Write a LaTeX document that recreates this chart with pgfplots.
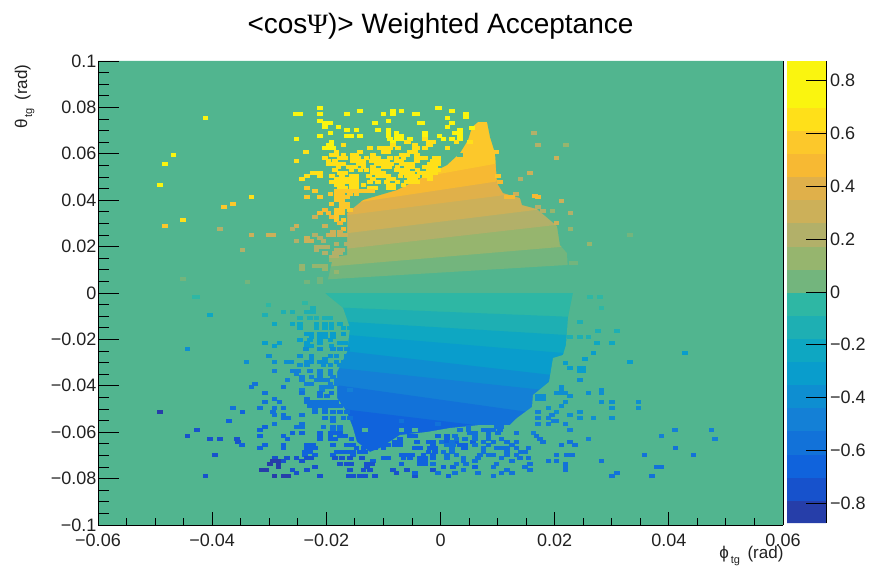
\documentclass[border=0pt]{standalone}
\usepackage{fontspec}
\setmainfont{Liberation Sans}
\newfontfamily\greekser{Liberation Serif}
\usepackage{pgfplots}
\pgfplotsset{compat=1.18}
\definecolor{c2}{rgb}{.0629,.3882,.8625}
\definecolor{c3}{rgb}{.0704,.4458,.8506}
\definecolor{c4}{rgb}{.0779,.5035,.8385}
\definecolor{c5}{rgb}{.0563,.5587,.8198}
\definecolor{c6}{rgb}{.0344,.6138,.8010}
\definecolor{c7}{rgb}{.0540,.6568,.7622}
\definecolor{c8}{rgb}{.1168,.6871,.7027}
\definecolor{c9}{rgb}{.1796,.7175,.6431}
\definecolor{c10}{rgb}{.3188,.7102,.5627}
\definecolor{c11}{rgb}{.45,.71,.49}
\definecolor{c12}{rgb}{.59,.71,.43}
\definecolor{c13}{rgb}{.70,.69,.41}
\definecolor{c14}{rgb}{.80,.69,.35}
\definecolor{c15}{rgb}{.88,.69,.29}
\definecolor{c16}{rgb}{.97,.725,.20}
\definecolor{c17}{rgb}{.99,.785,.17}
\definecolor{lab}{rgb}{.13,.13,.13}
\pgfplotsset{
  colormap={bird}{
    rgb=(.1492,.2430,.6636) rgb=(.0896,.3204,.7992) rgb=(.0629,.3882,.8625) rgb=(.0704,.4458,.8506)
    rgb=(.0779,.5035,.8385) rgb=(.0563,.5587,.8198) rgb=(.0344,.6138,.8010) rgb=(.0540,.6568,.7622)
    rgb=(.1168,.6871,.7027) rgb=(.1796,.7175,.6431) rgb=(.3188,.7102,.5627) rgb=(.45,.71,.49)
    rgb=(.59,.71,.43) rgb=(.70,.69,.41) rgb=(.80,.69,.35) rgb=(.88,.69,.29)
    rgb=(.97,.725,.20) rgb=(.99,.785,.17) rgb=(1,.88,.10) rgb=(.98,.96,.06)
    rgb=(.98,.96,.06)
  }
}
\newcommand{\tickf}{\fontsize{18}{20}\selectfont}
\begin{document}
\begin{tikzpicture}[x=1pt,y=1pt]
\path[use as bounding box] (0,0) rectangle (869,570);
\begin{axis}[
  at={(98pt,45pt)}, anchor=south west,
  scale only axis, width=685pt, height=464pt,
  xmin=-0.06, xmax=0.06, ymin=-0.1, ymax=0.1,
  axis x line=bottom, axis y line=box, axis line style={-, black, line width=0.9pt},
  axis on top,
  scaled ticks=false,
  axis background/.style={fill=c10},
  colormap name=bird, colormap access=piecewise constant,
  point meta min=-0.875, point meta max=0.875,
  colorbar sampled,
  colorbar style={
    samples=21, at={(1.0058,0.0043)}, anchor=south west,
    width=39.5pt, height=462pt,
    axis x line=none, axis y line=none,
    ytick=\empty, xtick=\empty,
  },
  xtick={-0.06,-0.04,-0.02,0,0.02,0.04,0.06},
  xticklabels={−0.06,−0.04,−0.02,0,0.02,0.04,0.06},
  minor x tick num=3,
  ytick=\empty,
  tick align=inside, xtick pos=bottom,
  major tick length=13pt, minor tick length=7pt,
  tick style={black, line width=0.9pt},
  xticklabel style={font=\tickf, text=lab, yshift=-5pt},
  xlabel={\fontsize{17}{19}\selectfont ϕ\raisebox{-5pt}{\fontsize{11}{12}\selectfont\,tg}\, (rad)},
  xlabel style={at={(axis description cs:1,0)}, anchor=north east, yshift=-18pt, xshift=4pt, text=lab},
  title={\fontsize{28}{30}\selectfont <cos{\greekser Ψ})> Weighted Acceptance},
  title style={at={(axis description cs:0.5,1)}, anchor=south, yshift=12pt, text=black},
  clip=true,
]
% contour bands of the central region (each painted up to the top / down to the bottom)
\addplot[fill=c11,draw=none] coordinates {(-0.0246,0.00517)(0.0279,0.01293)(0.0279,0.09)(-0.0246,0.09)} -- cycle;
\addplot[fill=c12,draw=none] coordinates {(-0.0246,0.01034)(0.0279,0.02129)(0.0279,0.09)(-0.0246,0.09)} -- cycle;
\addplot[fill=c13,draw=none] coordinates {(-0.0246,0.01681)(0.0279,0.03147)(0.0279,0.09)(-0.0246,0.09)} -- cycle;
\addplot[fill=c14,draw=none] coordinates {(-0.0246,0.02328)(0.0279,0.03922)(0.0279,0.09)(-0.0246,0.09)} -- cycle;
\addplot[fill=c15,draw=none] coordinates {(-0.0246,0.03103)(0.0279,0.04741)(0.0279,0.09)(-0.0246,0.09)} -- cycle;
\addplot[fill=c16,draw=none] coordinates {(-0.0246,0.03534)(0.0279,0.05474)(0.0279,0.09)(-0.0246,0.09)} -- cycle;
\addplot[fill=c17,draw=none] coordinates {(-0.0246,0.04052)(0.0279,0.06379)(0.0279,0.09)(-0.0246,0.09)} -- cycle;
\addplot[fill=c9,draw=none] coordinates {(-0.0246,0)(0.0279,0)(0.0279,-0.09)(-0.0246,-0.09)} -- cycle;
\addplot[fill=c8,draw=none] coordinates {(-0.0246,-0.0056)(0.0279,-0.01078)(0.0279,-0.09)(-0.0246,-0.09)} -- cycle;
\addplot[fill=c7,draw=none] coordinates {(-0.0246,-0.01121)(0.0279,-0.01897)(0.0279,-0.09)(-0.0246,-0.09)} -- cycle;
\addplot[fill=c6,draw=none] coordinates {(-0.0246,-0.01638)(0.0279,-0.02716)(0.0279,-0.09)(-0.0246,-0.09)} -- cycle;
\addplot[fill=c5,draw=none] coordinates {(-0.0246,-0.02284)(0.0279,-0.03772)(0.0279,-0.09)(-0.0246,-0.09)} -- cycle;
\addplot[fill=c4,draw=none] coordinates {(-0.0246,-0.0306)(0.0279,-0.0444)(0.0279,-0.09)(-0.0246,-0.09)} -- cycle;
\addplot[fill=c3,draw=none] coordinates {(-0.0246,-0.0375)(0.0279,-0.0556)(0.0279,-0.09)(-0.0246,-0.09)} -- cycle;
\addplot[fill=c2,draw=none] coordinates {(-0.0246,-0.04784)(0.0279,-0.06336)(0.0279,-0.09)(-0.0246,-0.09)} -- cycle;
% empty bins around the populated region
\addplot[fill=c10,draw=none,even odd rule] coordinates {
(-0.06,0.1)(0.06,0.1)(0.06,-0.1)(-0.06,-0.1)(-0.06,0)
(-0.02023,0)(-0.01936,0.00991)(-0.01883,0.01552)(-0.01638,0.01638)(-0.01638,0.03448)(-0.01358,0.04009)
(-0.00762,0.0444)(-0.00307,0.05)(0.00114,0.05517)(0.00342,0.06034)(0.00482,0.06595)(0.00552,0.07155)
(0.00657,0.07371)(0.00815,0.07371)(0.00867,0.06724)(0.00955,0.06034)(0.0099,0.04741)(0.01095,0.0431)
(0.01393,0.04095)(0.01428,0.03793)(0.0169,0.03621)(0.02041,0.02888)(0.02093,0.02069)(0.02216,0.01724)
(0.02233,0.00905)(0.02321,0)(0.02233,-0.01078)(0.02198,-0.02241)(0.02146,-0.02672)(0.01971,-0.02802)
(0.01901,-0.03836)(0.0162,-0.04397)(0.01603,-0.04914)(0.0134,-0.05388)(0.01217,-0.0569)(0.00692,-0.0569)
(0.00166,-0.05819)(-0.00237,-0.05991)(-0.0071,-0.06121)(-0.0106,-0.06681)(-0.01235,-0.06853)(-0.01463,-0.06422)
(-0.01533,-0.05819)(-0.01638,-0.05129)(-0.01813,-0.04526)(-0.01813,-0.03405)(-0.01638,-0.02543)(-0.01585,-0.01509)
(-0.01708,-0.00647)(-0.01988,-0.00086)(-0.02023,0)(-0.06,0)
} -- cycle;
% isolated bins
\addplot[scatter, only marks, mark=square*, mark size=1.55pt,
  scatter/use mapped color={draw=mapped color, fill=mapped color},
  mark options={xscale=1.48, line width=0pt}, point meta=explicit]
table[row sep=\\, x=x, y=y, meta=v] {
x y v \\
-.0211 .0799 .84 \\ -.0004 .0799 .84 \\
-.0141 .0786 .84 \\ -.0068 .0786 .84 \\ -.0083 .0786 .84 \\
-.0253 .0772 .84 \\ -.0245 .0772 .84 \\ -.0211 .0772 .84 \\ -.0164 .0772 .84 \\ -.0100 .0772 .84 \\ -.0083 .0772 .84 \\ -.0041 .0772 .84 \\
-.0412 .0756 .84 \\
-.0211 .0743 .74 \\ -.0091 .0743 .74 \\
-.0202 .0731 .84 \\ -.0193 .0731 .84 \\ -.0115 .0731 .74 \\ -.0032 .0731 .74 \\
-.0202 .0717 .84 \\ -.0179 .0717 .74 \\
-.0164 .0704 .74 \\ -.0147 .0704 .74 \\ -.0109 .0704 .74 \\ -.0091 .0704 .74 \\
-.0193 .0691 .74 \\ -.0091 .0691 .72 \\ -.0077 .0691 .72 \\
-.0211 .0678 .74 \\ -.0164 .0678 .74 \\ -.0156 .0678 .74 \\ -.0141 .0678 .72 \\ -.0091 .0678 .72 \\ -.0077 .0678 .72 \\ -.0068 .0678 .72 \\ -.0027 .0678 .72 \\
-.0252 .0664 .72 \\ -.0088 .0664 .72 \\ -.0077 .0664 .72 \\ -.0053 .0664 .72 \\
-.0191 .0649 .72 \\ -.0083 .0649 .72 \\ -.0059 .0649 .64 \\ -.0021 .0649 .64 \\ -.0013 .0649 .64 \\
-.0191 .0636 .72 \\ -.0196 .0636 .72 \\ -.0170 .0636 .64 \\ -.0083 .0636 .64 \\ -.0045 .0636 .64 \\ -.0018 .0636 .64 \\
-.0202 .0624 .72 \\ -.0193 .0624 .72 \\ -.0188 .0624 .72 \\ -.0123 .0624 .64 \\ -.0106 .0624 .64 \\ -.0097 .0624 .64 \\ -.0088 .0624 .64 \\ -.0074 .0624 .64 \\ -.0041 .0624 .64 \\ -.0027 .0624 .64 \\
-.0236 .0609 .63 \\ -.0182 .0609 .63 \\ -.0141 .0609 .63 \\ -.0100 .0609 .63 \\ -.0091 .0609 .63 \\ -.0053 .0609 .63 \\ -.0045 .0609 .63 \\
-.0468 .0596 .72 \\ -.0191 .0596 .63 \\ -.0182 .0596 .63 \\ -.0170 .0596 .63 \\ -.0153 .0596 .63 \\ -.0147 .0596 .63 \\ -.0118 .0596 .63 \\ -.0068 .0596 .63 \\ -.0059 .0596 .63 \\ -.0041 .0596 .63 \\
-.0202 .0583 .63 \\ -.0176 .0583 .63 \\ -.0167 .0583 .63 \\ -.0153 .0583 .63 \\ -.0144 .0583 .63 \\ -.0118 .0583 .63 \\ -.0109 .0583 .63 \\ -.0088 .0583 .63 \\ -.0077 .0583 .63 \\ -.0041 .0583 .63 \\ -.0036 .0583 .63 \\ -.0010 .0583 .63 \\ -.0004 .0583 .63 \\ -.0130 .0583 .63 \\ -.0065 .0583 .63 \\ -.0027 .0583 .63 \\
-.0252 .0570 .64 \\ -.0196 .0570 .63 \\ -.0153 .0570 .63 \\ -.0144 .0570 .63 \\ -.0135 .0570 .63 \\ -.0112 .0570 .63 \\ -.0103 .0570 .63 \\ -.0094 .0570 .63 \\ -.0077 .0570 .63 \\ -.0068 .0570 .63 \\ -.0041 .0570 .63 \\ -.0013 .0570 .63 \\ -.0004 .0570 .63 \\ -.0185 .0570 .63 \\ -.0120 .0570 .63 \\
-.0483 .0557 .74 \\ -.0196 .0557 .63 \\ -.0188 .0557 .63 \\ -.0179 .0557 .63 \\ -.0170 .0557 .63 \\ -.0144 .0557 .63 \\ -.0135 .0557 .63 \\ -.0112 .0557 .63 \\ -.0103 .0557 .63 \\ -.0094 .0557 .63 \\ -.0086 .0557 .63 \\ -.0068 .0557 .63 \\ -.0059 .0557 .63 \\ -.0050 .0557 .63 \\ -.0018 .0557 .63 \\ -.0010 .0557 .63 \\ -.0004 .0557 .63 \\
-.0179 .0545 .63 \\ -.0135 .0545 .63 \\ -.0118 .0545 .63 \\ -.0059 .0545 .63 \\ -.0027 .0545 .63 \\ -.0018 .0545 .63 \\ -.0010 .0545 .63 \\ -.0160 .0545 .63 \\ -.0150 .0545 .63 \\ -.0100 .0545 .63 \\ -.0090 .0545 .63 \\ -.0075 .0545 .63 \\ -.0050 .0545 .63 \\
-.0156 .0530 .63 \\ -.0118 .0530 .63 \\ -.0109 .0530 .63 \\ -.0077 .0530 .63 \\ -.0068 .0530 .63 \\ -.0059 .0530 .63 \\ -.0021 .0530 .63 \\ -.0013 .0530 .63 \\ -.0004 .0530 .63 \\ -.0185 .0530 .63 \\ -.0140 .0530 .63 \\ -.0130 .0530 .63 \\ -.0040 .0530 .63 \\
-.0223 .0517 .63 \\ -.0220 .0517 .63 \\ -.0211 .0517 .63 \\ -.0176 .0517 .63 \\ -.0167 .0517 .63 \\ -.0118 .0517 .63 \\ -.0109 .0517 .63 \\ -.0100 .0517 .63 \\ -.0068 .0517 .63 \\ -.0059 .0517 .63 \\ -.0050 .0517 .63 \\ -.0036 .0517 .63 \\ -.0027 .0517 .63 \\ -.0018 .0517 .63 \\ -.0010 .0517 .63 \\
-.0234 .0504 .63 \\ -.0211 .0504 .63 \\ -.0173 .0504 .63 \\ -.0156 .0504 .63 \\ -.0147 .0504 .63 \\ -.0100 .0504 .63 \\ -.0091 .0504 .63 \\ -.0059 .0504 .63 \\ -.0050 .0504 .63 \\ -.0041 .0504 .63 \\ -.0027 .0504 .63 \\ -.0018 .0504 .63 \\ -.0190 .0504 .63 \\ -.0125 .0504 .63 \\ -.0110 .0504 .63 \\ -.0070 .0504 .63 \\
-.0243 .0490 .63 \\ -.0182 .0490 .63 \\ -.0173 .0490 .63 \\ -.0164 .0490 .63 \\ -.0156 .0490 .63 \\ -.0147 .0490 .63 \\ -.0118 .0490 .63 \\ -.0091 .0490 .63 \\ -.0083 .0490 .63 \\ -.0053 .0490 .63 \\ -.0044 .0490 .63 \\ -.0018 .0490 .63 \\
-.0191 .0477 .63 \\ -.0182 .0477 .63 \\ -.0173 .0477 .63 \\ -.0164 .0477 .63 \\ -.0156 .0477 .63 \\ -.0147 .0477 .63 \\ -.0123 .0477 .63 \\ -.0094 .0477 .63 \\ -.0059 .0477 .63 \\ -.0050 .0477 .63 \\ -.0041 .0477 .63 \\ -.0110 .0477 .63 \\ -.0075 .0477 .63 \\
-.0491 .0464 .84 \\ -.0182 .0464 .63 \\ -.0173 .0464 .63 \\ -.0156 .0464 .63 \\ -.0147 .0464 .63 \\ -.0135 .0464 .63 \\ -.0091 .0464 .63 \\ -.0083 .0464 .63 \\ -.0065 .0464 .63 \\
-.0234 .0451 .55 \\ -.0176 .0451 .63 \\ -.0167 .0451 .63 \\ -.0156 .0451 .63 \\ -.0147 .0451 .63 \\ -.0123 .0451 .63 \\ -.0115 .0451 .63 \\ -.0091 .0451 .63 \\ -.0083 .0451 .63 \\
-.0220 .0438 .55 \\ -.0182 .0438 .55 \\ -.0173 .0438 .55 \\ -.0156 .0438 .55 \\ -.0147 .0438 .55 \\ -.0129 .0438 .55 \\ -.0120 .0438 .55 \\ -.0165 .0438 .55 \\ -.0138 .0438 .55 \\
-.0193 .0425 .55 \\ -.0182 .0425 .55 \\ -.0173 .0425 .55 \\ -.0159 .0425 .55 \\ -.0147 .0425 .55 \\
-.0331 .0412 .63 \\ -.0234 .0412 .55 \\ -.0211 .0412 .55 \\ -.0182 .0412 .55 \\ -.0173 .0412 .55 \\ -.0164 .0412 .55 \\
-.0182 .0399 .55 \\ -.0173 .0399 .55 \\
-.0363 .0385 .55 \\ -.0191 .0385 .55 \\ -.0173 .0385 .55 \\ -.0164 .0385 .55 \\
-.0379 .0372 .55 \\ -.0173 .0372 .55 \\ -.0164 .0372 .55 \\
-.0202 .0358 .46 \\ -.0182 .0358 .55 \\ -.0173 .0358 .55 \\ -.0159 .0358 .55 \\
-.0211 .0343 .46 \\ -.0196 .0343 .46 \\ -.0182 .0343 .55 \\ -.0173 .0343 .55 \\
-.0220 .0329 .37 \\ -.0191 .0329 .46 \\ -.0182 .0329 .55 \\
-.0451 .0315 .63 \\ -.0182 .0315 .55 \\ -.0170 .0315 .55 \\
-.0176 .0302 .46 \\
-.0483 .0289 .55 \\ -.0252 .0289 .37 \\ -.0202 .0289 .37 \\
-.0386 .0276 .285 \\ -.0259 .0276 .285 \\ -.0170 .0276 .46 \\
-.0188 .0263 .37 \\ -.0176 .0263 .37 \\
-.0331 .0250 .37 \\ -.0301 .0250 .37 \\ -.0293 .0250 .37 \\ -.0220 .0250 .285 \\ -.0196 .0250 .37 \\ -.0188 .0250 .37 \\ -.0176 .0250 .37 \\ -.0167 .0250 .37 \\
-.0234 .0236 .37 \\ -.0211 .0236 .285 \\
-.0252 .0223 .285 \\ -.0234 .0223 .37 \\ -.0226 .0223 .37 \\ -.0205 .0223 .285 \\
-.0182 .0210 .285 \\ -.0164 .0210 .285 \\ -.0156 .0210 .285 \\
-.0217 .0197 .285 \\ -.0208 .0197 .285 \\ -.0199 .0197 .285 \\
-.0347 .0184 .285 \\ -.0217 .0184 .285 \\ -.0182 .0184 .285 \\ -.0173 .0184 .285 \\
-.0202 .0171 .285 \\ -.0185 .0171 .285 \\ -.0176 .0171 .285 \\
-.0182 .0157 .285 \\ -.0191 .0157 .285 \\
-.0191 .0142 .2 \\ -.0182 .0142 .2 \\
-.0220 .0118 .2 \\ -.0211 .0118 .2 \\ -.0202 .0118 .2 \\ -.0243 .0118 .2 \\
-.0243 .0103 .2 \\ -.0202 .0103 .2 \\
-.0182 .0089 .2 \\
-.0451 .0062 .11 \\ -.0211 .0062 .11 \\
-.0338 .0049 .11 \\ -.0234 .0049 .11 \\ -.0211 .0049 .11 \\
-.0003 .0796 .84 \\ .0045 .0772 .84 \\ .0045 .0760 .84 \\ .0020 .0786 .84 \\ -.0045 .0772 .84 \\ .0012 .0756 .74 \\ .0020 .0731 .74 \\ -.0036 .0731 .74 \\ .0012 .0717 .74 \\ .0034 .0704 .74 \\ .0034 .0691 .74 \\ .0025 .0691 .74 \\ -.0027 .0691 .72 \\ .0034 .0678 .72 \\ -.0002 .0678 .72 \\ .0020 .0664 .72 \\ .0005 .0664 .72 \\ .0034 .0664 .72 \\ -.0068 .0664 .72 \\ -.0056 .0649 .64 \\ -.0027 .0664 .64 \\ -.0013 .0649 .64 \\ .0028 .0649 .64 \\ .0052 .0649 .64 \\ -.0021 .0636 .64 \\ -.0045 .0624 .64 \\ -.0027 .0624 .64 \\ .0055 .0711 .72 \\
.0012 .0624 .63 \\ .0012 .0596 .04 \\ .0034 .0596 .04 \\
.0098 .0609 .55 \\ .0101 .0504 .55 \\ .0104 .0477 .46 \\ .0140 .0490 .285 \\ .0157 .0517 .37 \\ .0164 .0691 .285 \\ .0171 .0636 .285 \\ .0220 .0636 .2 \\ .0203 .0583 .37 \\ .0166 .0418 .46 \\ .0171 .0412 .46 \\ .0212 .0398 .37 \\ .0132 .0425 .37 \\ .0116 .0412 .46 \\ .0125 .0412 .46 \\ .0171 .0369 .285 \\ .0180 .0355 .285 \\ .0196 .0355 .2 \\ .0228 .0343 .285 \\ .0203 .0303 .37 \\ .0228 .0276 .2 \\ .0332 .0250 .11 \\ .0261 .0211 .2 \\ .0230 .0131 .11 \\ .0236 .0131 .11 \\
-.0430 -.0016 -.1 \\ -.0427 -.0016 -.1 \\ -.0301 -.0052 -.12 \\
-.0404 -.0095 -.25 \\ -.0307 -.0095 -.2 \\ -.0275 -.0080 -.15 \\ -.0259 -.0080 -.15 \\ -.0234 -.0080 -.18 \\ -.0223 -.0080 -.18 \\ -.0223 -.0066 -.15 \\ -.0237 -.0045 -.12 \\
-.0246 -.0109 -.2 \\ -.0229 -.0109 -.2 \\ -.0217 -.0109 -.2 \\ -.0202 -.0109 -.2 \\ -.0193 -.0109 -.2 \\
-.0291 -.0135 -.25 \\ -.0259 -.0135 -.25 \\ -.0246 -.0135 -.25 \\ -.0217 -.0135 -.25 \\ -.0202 -.0135 -.25 \\ -.0191 -.0135 -.25 \\ -.0176 -.0135 -.25 \\
-.0246 -.0149 -.25 \\ -.0217 -.0149 -.25 \\ -.0202 -.0149 -.25 \\ -.0191 -.0149 -.25 \\ -.0170 -.0149 -.25 \\ -.0159 -.0149 -.25 \\
-.0234 -.0177 -.3 \\ -.0226 -.0177 -.3 \\ -.0211 -.0177 -.3 \\ -.0202 -.0177 -.3 \\ -.0188 -.0177 -.3 \\ -.0170 -.0177 -.3 \\
-.0226 -.0191 -.3 \\ -.0211 -.0191 -.3 \\ -.0202 -.0191 -.3 \\ -.0188 -.0191 -.3 \\
-.0246 -.0203 -.3 \\ -.0229 -.0203 -.3 \\ -.0211 -.0203 -.3 \\ -.0193 -.0203 -.3 \\
-.0307 -.0217 -.35 \\ -.0282 -.0217 -.35 \\ -.0234 -.0217 -.35 \\ -.0211 -.0217 -.35 \\ -.0176 -.0217 -.35 \\ -.0167 -.0217 -.35 \\
-.0291 -.0230 -.35 \\ -.0234 -.0230 -.35 \\ -.0226 -.0230 -.35 \\ -.0191 -.0230 -.35 \\
-.0443 -.0243 -.42 \\ -.0236 -.0243 -.38 \\ -.0211 -.0243 -.38 \\ -.0188 -.0243 -.38 \\ -.0176 -.0243 -.38 \\ -.0164 -.0243 -.38 \\
-.0300 -.0270 -.4 \\ -.0246 -.0270 -.4 \\ -.0226 -.0270 -.4 \\ -.0193 -.0270 -.4 \\ -.0182 -.0270 -.4 \\ -.0164 -.0270 -.4 \\
-.0226 -.0283 -.4 \\ -.0202 -.0283 -.4 \\
-.0340 -.0296 -.45 \\ -.0291 -.0296 -.42 \\ -.0269 -.0296 -.42 \\ -.0261 -.0296 -.42 \\ -.0234 -.0296 -.42 \\ -.0226 -.0296 -.42 \\ -.0211 -.0296 -.42 \\ -.0202 -.0296 -.42 \\ -.0182 -.0296 -.42 \\ -.0170 -.0296 -.42 \\
-.0246 -.0310 -.42 \\ -.0234 -.0310 -.42 \\ -.0205 -.0310 -.42 \\ -.0193 -.0310 -.42 \\ -.0176 -.0310 -.42 \\
-.0291 -.0336 -.48 \\ -.0258 -.0336 -.48 \\ -.0249 -.0336 -.48 \\ -.0229 -.0336 -.48 \\ -.0211 -.0336 -.48 \\ -.0193 -.0336 -.48 \\
-.0252 -.0351 -.48 \\ -.0211 -.0351 -.48 \\ -.0193 -.0351 -.48 \\
-.0243 -.0364 -.48 \\ -.0226 -.0364 -.48 \\ -.0211 -.0364 -.48 \\ -.0188 -.0364 -.48 \\
-.0268 -.0376 -.5 \\ -.0243 -.0376 -.5 \\ -.0217 -.0376 -.5 \\ -.0208 -.0376 -.5 \\ -.0199 -.0376 -.5 \\ -.0182 -.0376 -.5 \\ -.0159 -.0376 -.5 \\
-.0325 -.0391 -.55 \\ -.0234 -.0391 -.5 \\ -.0226 -.0391 -.5 \\ -.0193 -.0391 -.5 \\ -.0182 -.0391 -.5 \\
-.0331 -.0404 -.55 \\ -.0275 -.0404 -.55 \\ -.0208 -.0404 -.52 \\ -.0199 -.0404 -.52 \\ -.0191 -.0404 -.52 \\
-.0243 -.0418 -.52 \\ -.0208 -.0418 -.52 \\ -.0159 -.0418 -.52 \\
-.0307 -.0431 -.55 \\ -.0243 -.0431 -.55 \\ -.0211 -.0431 -.55 \\ -.0191 -.0431 -.55 \\
-.0211 -.0444 -.55 \\ -.0199 -.0444 -.55 \\
-.0291 -.0458 -.55 \\ -.0234 -.0458 -.55 \\
-.0307 -.0471 -.58 \\ -.0282 -.0471 -.58 \\ -.0234 -.0471 -.58 \\ -.0226 -.0471 -.58 \\ -.0217 -.0471 -.58 \\ -.0208 -.0471 -.58 \\ -.0199 -.0471 -.58 \\ -.0191 -.0471 -.58 \\ -.0182 -.0471 -.58 \\ -.0170 -.0471 -.58 \\ -.0161 -.0471 -.58 \\
-.0229 -.0486 -.58 \\ -.0220 -.0486 -.58 \\ -.0211 -.0486 -.58 \\ -.0202 -.0486 -.58 \\ -.0193 -.0486 -.58 \\ -.0185 -.0486 -.58 \\ -.0176 -.0486 -.58 \\
-.0363 -.0497 -.62 \\ -.0316 -.0497 -.6 \\ -.0291 -.0497 -.6 \\ -.0275 -.0497 -.6 \\ -.0220 -.0497 -.6 \\ -.0202 -.0497 -.6 \\
-.0491 -.0511 -.8 \\ -.0347 -.0511 -.68 \\ -.0293 -.0511 -.6 \\ -.0220 -.0511 -.6 \\ -.0202 -.0511 -.6 \\ -.0188 -.0511 -.6 \\ -.0176 -.0511 -.6 \\ -.0164 -.0511 -.6 \\
-.0291 -.0526 -.6 \\ -.0275 -.0526 -.6 \\ -.0243 -.0526 -.6 \\
-.0275 -.0539 -.62 \\ -.0267 -.0539 -.62 \\ -.0202 -.0539 -.62 \\ -.0188 -.0539 -.62 \\ -.0170 -.0539 -.62 \\ -.0159 -.0539 -.62 \\
-.0371 -.0552 -.65 \\ -.0188 -.0552 -.62 \\ -.0068 -.0552 -.62 \\
-.0291 -.0565 -.62 \\ -.0243 -.0565 -.62 \\ -.0004 -.0565 -.62 \\
-.0307 -.0578 -.65 \\ -.0252 -.0578 -.62 \\ -.0243 -.0578 -.62 \\ -.0205 -.0578 -.62 \\ -.0188 -.0578 -.62 \\ -.0176 -.0578 -.62 \\
-.0427 -.0591 -.75 \\ -.0316 -.0591 -.65 \\ -.0188 -.0591 -.62 \\ -.0176 -.0591 -.62 \\ -.0132 -.0591 .04 \\ -.0068 -.0591 .04 \\ -.0045 -.0591 .04 \\
-.0259 -.0605 -.65 \\ -.0243 -.0605 -.65 \\ -.0211 -.0605 -.65 \\ -.0193 -.0605 -.65 \\ -.0185 -.0605 -.65 \\ -.0176 -.0605 -.65 \\
-.0443 -.0618 -.78 \\ -.0316 -.0618 -.65 \\ -.0275 -.0618 -.65 \\ -.0211 -.0618 -.65 \\ -.0193 -.0618 -.65 \\ -.0176 -.0618 -.65 \\ -.0167 -.0618 -.65 \\ -.0106 -.0618 -.65 \\ -.0097 -.0618 -.65 \\ -.0053 -.0618 -.65 \\ -.0045 -.0618 -.65 \\
-.0404 -.0631 -.75 \\ -.0386 -.0631 -.75 \\ -.0357 -.0631 -.72 \\ -.0268 -.0631 -.66 \\ -.0211 -.0631 -.66 \\ -.0193 -.0631 -.66 \\ -.0185 -.0631 -.66 \\ -.0156 -.0631 -.66 \\ -.0071 -.0631 -.66 \\
-.0355 -.0644 -.72 \\ -.0080 -.0644 -.66 \\ -.0071 -.0644 -.66 \\ -.0041 -.0644 -.66 \\ -.0021 -.0644 -.66 \\ -.0013 -.0644 -.66 \\
-.0348 -.0657 -.7 \\ -.0307 -.0657 -.7 \\ -.0275 -.0657 -.7 \\ -.0234 -.0657 -.7 \\ -.0223 -.0657 -.7 \\ -.0188 -.0657 -.7 \\ -.0164 -.0657 -.7 \\ -.0153 -.0657 -.7 \\ -.0118 -.0657 -.7 \\ -.0109 -.0657 -.7 \\ -.0100 -.0657 -.7 \\ -.0091 -.0657 -.7 \\ -.0080 -.0657 -.7 \\ -.0071 -.0657 -.7 \\
-.0316 -.0670 -.7 \\ -.0275 -.0670 -.7 \\ -.0234 -.0670 -.7 \\ -.0226 -.0670 -.7 \\ -.0220 -.0670 -.7 \\ -.0147 -.0670 -.7 \\ -.0135 -.0670 -.68 \\ -.0115 -.0670 -.68 \\ -.0100 -.0670 -.68 \\ -.0045 -.0670 -.68 \\ -.0036 -.0670 -.68 \\ -.0018 -.0670 -.68 \\ -.0010 -.0670 -.68 \\
-.0237 -.0684 -.7 \\ -.0229 -.0684 -.7 \\ -.0182 -.0684 -.7 \\ -.0173 -.0684 -.7 \\ -.0164 -.0684 -.7 \\ -.0153 -.0684 -.7 \\ -.0141 -.0684 -.7 \\ -.0132 -.0684 -.68 \\ -.0010 -.0684 -.68 \\
-.0395 -.0697 -.75 \\ -.0237 -.0697 -.7 \\ -.0220 -.0697 -.7 \\ -.0188 -.0697 -.7 \\ -.0153 -.0697 -.7 \\ -.0068 -.0697 -.68 \\ -.0059 -.0697 -.68 \\ -.0050 -.0697 -.68 \\ -.0030 -.0697 -.68 \\ -.0013 -.0697 -.68 \\
-.0290 -.0710 -.78 \\ -.0269 -.0710 -.75 \\ -.0252 -.0710 -.72 \\ -.0234 -.0710 -.72 \\ -.0226 -.0710 -.72 \\ -.0185 -.0710 -.72 \\ -.0173 -.0710 -.72 \\ -.0159 -.0710 -.72 \\ -.0138 -.0710 -.72 \\ -.0100 -.0710 -.7 \\ -.0091 -.0710 -.7 \\ -.0065 -.0710 -.7 \\ -.0053 -.0710 -.7 \\ -.0036 -.0710 -.7 \\ -.0027 -.0710 -.7 \\ -.0013 -.0710 -.7 \\
-.0293 -.0723 -.8 \\ -.0275 -.0723 -.78 \\ -.0284 -.0723 -.8 \\ -.0243 -.0723 -.72 \\ -.0118 -.0723 -.7 \\ -.0036 -.0723 -.7 \\ -.0027 -.0723 -.7 \\
-.0299 -.0736 -.82 \\ -.0284 -.0736 -.82 \\ -.0176 -.0736 -.72 \\ -.0164 -.0736 -.72 \\ -.0156 -.0736 -.72 \\ -.0129 -.0736 -.72 \\ -.0120 -.0736 -.72 \\ -.0068 -.0736 -.7 \\ -.0036 -.0736 -.7 \\ -.0027 -.0736 -.7 \\
-.0284 -.0749 -.82 \\ -.0220 -.0749 -.72 \\ -.0129 -.0749 -.72 \\
-.0313 -.0763 -.82 \\ -.0306 -.0763 -.82 \\ -.0259 -.0763 -.75 \\ -.0234 -.0763 -.72 \\ -.0159 -.0763 -.72 \\ -.0135 -.0763 -.72 \\ -.0123 -.0763 -.72 \\ -.0083 -.0763 -.72 \\ -.0059 -.0763 -.72 \\ -.0013 -.0763 -.72 \\
-.0252 -.0777 -.75 \\ -.0077 -.0777 -.72 \\
-.0412 -.0790 -.78 \\ -.0291 -.0790 -.82 \\ -.0275 -.0790 -.82 \\ -.0267 -.0790 -.82 \\ -.0211 -.0790 -.72 \\ -.0161 -.0790 -.72 \\ -.0153 -.0790 -.72 \\ -.0141 -.0790 -.72 \\ -.0132 -.0790 -.72 \\ -.0115 -.0790 -.72 \\ -.0045 -.0790 -.72 \\
.0262 -.0016 -.1 \\ .0279 -.0016 -.1 \\ .0282 -.0066 -.12 \\ .0244 -.0124 -.18 \\ .0276 -.0162 -.2 \\ .0309 -.0162 -.2 \\ .0227 -.0191 -.2 \\ .0244 -.0191 -.2 \\ .0259 -.0191 -.2 \\ .0274 -.0217 -.25 \\ .0300 -.0217 -.25 \\ .0268 -.0257 -.3 \\ .0428 -.0257 -.35 \\ .0253 -.0283 -.3 \\ .0332 -.0296 -.32 \\ .0219 -.0303 -.3 \\ .0227 -.0325 -.35 \\ .0244 -.0325 -.35 \\ .0250 -.0325 -.35 \\ .0244 -.0336 -.35 \\ .0250 -.0336 -.35 \\ .0244 -.0376 -.4 \\ .0212 -.0404 -.42 \\ .0203 -.0431 -.42 \\ .0206 -.0431 -.42 \\ .0212 -.0431 -.42 \\ .0218 -.0431 -.42 \\ .0259 -.0431 -.42 \\ .0282 -.0431 -.42 \\ .0212 -.0418 -.42 \\ .0282 -.0418 -.42 \\ .0227 -.0444 -.42 \\ .0171 -.0444 -.45 \\ .0180 -.0444 -.45 \\ .0171 -.0458 -.45 \\ .0180 -.0458 -.45 \\ .0219 -.0471 -.42 \\ .0282 -.0471 -.42 \\ .0300 -.0471 -.42 \\ .0347 -.0471 -.42 \\ .0212 -.0486 -.42 \\ .0189 -.0497 -.45 \\ .0300 -.0497 -.42 \\ .0347 -.0497 -.42 \\ .0171 -.0511 -.48 \\ .0203 -.0511 -.45 \\ .0244 -.0511 -.45 \\ .0227 -.0526 -.45 \\ .0195 -.0526 -.48 \\ .0171 -.0539 -.48 \\ .0189 -.0539 -.48 \\ .0244 -.0539 -.45 \\ .0268 -.0539 -.45 \\ .0300 -.0539 -.45 \\ .0198 -.0552 -.48 \\ .0203 -.0552 -.48 \\ .0171 -.0565 -.5 \\ .0189 -.0565 -.5 \\ .0219 -.0565 -.48 \\ .0227 -.0591 -.5 \\ .0411 -.0591 -.5 \\ .0475 -.0591 -.5 \\ .0163 -.0605 -.5 \\ .0168 -.0618 -.55 \\ .0387 -.0618 -.5 \\ .0174 -.0631 -.55 \\ .0259 -.0631 -.5 \\ .0481 -.0631 -.5 \\ .0180 -.0644 -.55 \\ .0227 -.0644 -.55 \\ .0236 -.0657 -.55 \\ .0212 -.0657 -.55 \\ .0154 -.0670 -.6 \\ .0116 -.0670 -.6 \\ .0107 -.0670 -.6 \\ .0412 -.0670 -.55 \\ .0148 -.0684 -.6 \\ .0069 -.0697 -.6 \\ .0093 -.0697 -.6 \\ .0116 -.0697 -.6 \\ .0133 -.0697 -.6 \\ .0203 -.0697 -.6 \\ .0221 -.0697 -.6 \\ .0230 -.0697 -.6 \\ .0357 -.0697 -.55 \\ .0443 -.0697 -.55 \\ .0040 -.0710 -.62 \\ .0139 -.0710 -.6 \\ .0154 -.0710 -.6 \\ .0189 -.0723 -.6 \\ .0203 -.0723 -.6 \\ .0282 -.0723 -.6 \\ .0157 -.0736 -.6 \\ .0219 -.0736 -.6 \\ .0005 -.0749 -.65 \\ .0022 -.0749 -.65 \\ .0060 -.0749 -.65 \\ .0219 -.0749 -.6 \\ .0379 -.0749 -.58 \\ .0387 -.0749 -.58 \\ .0157 -.0763 -.62 \\ .0219 -.0763 -.6 \\ .0125 -.0777 -.62 \\ .0107 -.0777 -.62 \\ .0093 -.0790 -.62 \\ .0014 -.0790 -.65 \\ -.0045 -.0777 -.65 \\ .0300 -.0790 -.6 \\ .0309 -.0777 -.6 \\ .0370 -.0790 -.6 \\
-.0004 -.0618 -.66 \\ .0011 -.0618 -.66 \\ .0011 -.0631 -.66 \\ .0011 -.0644 -.66 \\ .0028 -.0644 -.66 \\ .0057 -.0644 -.66 \\ .0084 -.0631 -.62 \\ .0116 -.0644 -.62 \\ .0133 -.0644 -.62 \\ .0034 -.0657 -.66 \\ .0043 -.0657 -.66 \\ -.0021 -.0684 -.66 \\ -.0013 -.0657 -.68 \\ .0040 -.0670 -.66 \\ .0043 -.0670 -.66 \\ .0052 -.0605 -.62 \\ .0060 -.0605 -.62 \\ .0084 -.0605 -.62 \\ .0101 -.0605 -.62 \\ .0133 -.0605 -.6 \\ .0034 -.0591 -.62 \\ .0049 -.0591 -.62 \\ .0075 -.0591 -.62 \\ .0084 -.0591 -.62 \\ .0093 -.0591 -.62 \\ .0104 -.0591 -.62 \\ .0049 -.0578 -.62 \\ .0098 -.0578 -.62 \\ .0107 -.0578 -.62 \\
.0025 -.0618 -.62 \\ .0060 -.0618 -.62 \\ .0084 -.0618 -.62 \\ .0028 -.0631 -.62 \\ .0043 -.0631 -.62 \\ .0060 -.0631 -.62 \\ .0107 -.0631 -.62 \\ .0002 -.0644 -.62 \\ .0020 -.0644 -.62 \\ .0075 -.0644 -.62 \\ .0093 -.0644 -.62 \\ .0011 -.0657 -.62 \\ .0022 -.0657 -.62 \\ .0060 -.0657 -.62 \\ .0084 -.0657 -.62 \\ .0125 -.0657 -.62 \\ .0020 -.0670 -.62 \\ .0075 -.0670 -.62 \\ .0098 -.0670 -.62 \\ .0133 -.0670 -.62 \\ .0005 -.0684 -.62 \\ .0020 -.0684 -.62 \\ .0075 -.0684 -.62 \\ .0116 -.0684 -.62 \\ .0140 -.0684 -.62 \\ .0011 -.0697 -.62 \\ .0028 -.0697 -.62 \\ .0084 -.0697 -.62 \\ .0011 -.0710 -.62 \\ .0066 -.0710 -.62 \\ .0107 -.0710 -.62 \\ .0040 -.0723 -.62 \\ .0060 -.0723 -.62 \\ .0125 -.0723 -.62 \\ -.0013 -.0736 -.62 \\ .0028 -.0736 -.62 \\ .0045 -.0736 -.62 \\ .0098 -.0736 -.62 \\ .0093 -.0749 -.62 \\ .0148 -.0749 -.62 \\ .0040 -.0763 -.62 \\ .0116 -.0763 -.62 \\ -.0004 -.0777 -.62 \\ .0066 -.0777 -.62 \\ .0025 -.0777 -.62 \\
};
\end{axis}
% y axis of the same frame: longer ticks than on the x axis
\begin{axis}[
  at={(98pt,45pt)}, anchor=south west,
  scale only axis, width=685pt, height=464pt,
  xmin=-0.06, xmax=0.06, ymin=-0.1, ymax=0.1,
  axis x line=none, axis y line=left, axis line style={-, black, line width=0.9pt},
  scaled ticks=false,
  ytick={-0.1,-0.08,-0.06,-0.04,-0.02,0,0.02,0.04,0.06,0.08,0.1},
  yticklabels={−0.1,−0.08,−0.06,−0.04,−0.02,0,0.02,0.04,0.06,0.08,0.1},
  minor y tick num=3,
  tick align=inside, major tick length=21pt, minor tick length=11pt,
  tick style={black, line width=0.9pt},
  yticklabel style={font=\tickf, text=lab, xshift=2pt},
  ylabel={\fontsize{17}{19}\selectfont θ\raisebox{-5pt}{\fontsize{11}{12}\selectfont\,tg}\, (rad)},
  ylabel style={at={(axis description cs:-0.107,1)}, anchor=east, text=lab},
]
\end{axis}
% scale of the colour bar
\begin{axis}[
  at={(787pt,47pt)}, anchor=south west,
  scale only axis, width=39.5pt, height=462pt,
  xmin=0, xmax=1, ymin=-0.875, ymax=0.875,
  axis x line=none, axis y line=right, axis line style={-, black, line width=0.9pt},
  scaled ticks=false,
  ytick={-0.8,-0.6,-0.4,-0.2,0,0.2,0.4,0.6,0.8},
  yticklabels={−0.8,−0.6,−0.4,−0.2,0,0.2,0.4,0.6,0.8},
  tick align=inside, major tick length=21pt,
  tick style={black, line width=0.9pt},
  yticklabel style={font=\tickf, text=lab},
]
\end{axis}
\end{tikzpicture}
\end{document}
